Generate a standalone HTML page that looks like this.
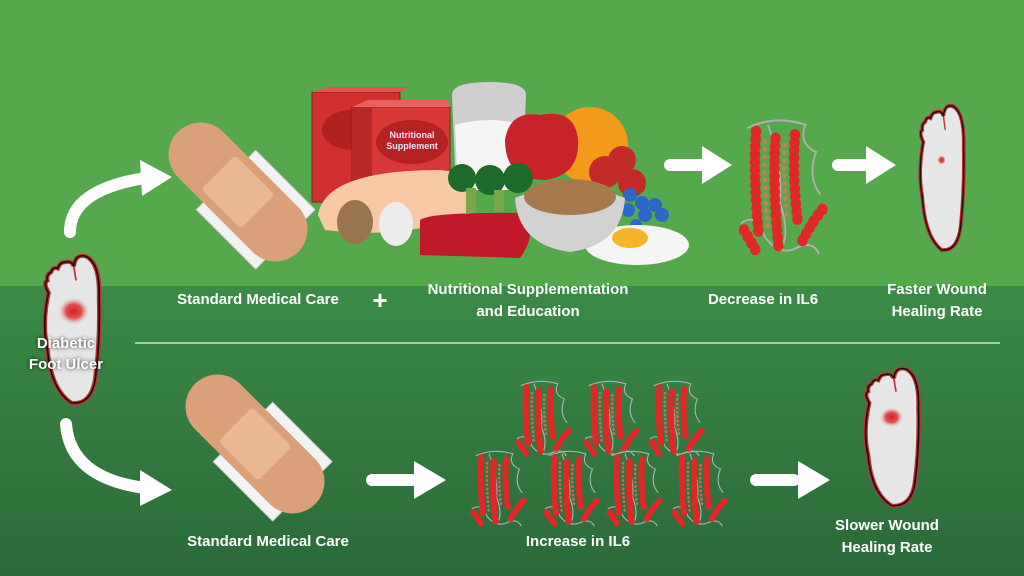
<!DOCTYPE html>
<html><head><style>
html,body{margin:0;padding:0;width:1024px;height:576px;overflow:hidden}
text{font-family:"Liberation Sans",sans-serif;font-weight:bold;fill:#fff}
</style></head><body>
<svg width="1024" height="576" viewBox="0 0 1024 576" xmlns="http://www.w3.org/2000/svg">
<defs>
<linearGradient id="bg2" x1="0" y1="0" x2="0" y2="1"><stop offset="0" stop-color="#3b8b45"/><stop offset="1" stop-color="#2a6a39"/></linearGradient>
<radialGradient id="ulc"><stop offset="0" stop-color="#d62020"/><stop offset="0.5" stop-color="#e05050"/><stop offset="1" stop-color="#e0e0e0" stop-opacity="0"/></radialGradient>
<filter id="sh"><feGaussianBlur stdDeviation="2"/></filter>
<g id="prot">
<g stroke="#b0b0b0" stroke-width="1.2" fill="none">
<path d="M6 6 Q25 -2 45 4 Q40 15 52 20 Q46 35 55 45"/>
<path d="M2 62 Q12 55 18 70 Q28 82 40 76 Q50 72 54 80"/>
<path d="M20 4 Q30 30 28 50 Q34 65 30 75"/>
</g>
<g stroke="#e02828" stroke-width="7" stroke-linecap="round" stroke-dasharray="0 4.5" fill="none">
<path d="M12 8 Q10 35 14 70"/>
<path d="M25 12 Q23 40 27 76"/>
<path d="M38 10 Q36 35 40 62"/>
<path d="M43 72 Q50 60 58 52"/>
<path d="M4 66 Q8 72 12 78"/>
</g>
<g stroke="#f07070" stroke-width="3" stroke-linecap="round" stroke-dasharray="0 4.5" fill="none" opacity="0.7">
<path d="M18 14 Q17 40 20 66"/><path d="M31 16 Q30 38 33 60"/>
</g>
</g>
<g id="foot">
<path d="M10 40 Q4 70 9 95 Q12 135 30 148 Q48 150 51 122 Q55 85 54 45 Q55 10 42 4 Q33 2 32 14 Q30 8 24 10 Q20 10 18 16 Q14 14 12 20 Q8 22 9 28 Q5 30 10 40Z" fill="#e6e6e6" stroke="#c03030" stroke-width="4"/>
<path d="M10 40 Q4 70 9 95 Q12 135 30 148 Q48 150 51 122 Q55 85 54 45 Q55 10 42 4 Q33 2 32 14 Q30 8 24 10 Q20 10 18 16 Q14 14 12 20 Q8 22 9 28 Q5 30 10 40Z" fill="none" stroke="#111" stroke-width="1.5"/>
<path d="M32 14 Q33 22 34 28" stroke="#c03030" stroke-width="1.5" fill="none"/>
</g>
<g id="band">
<rect x="-42" y="-42" width="84" height="84" fill="#f2f2f2" stroke="#ccc" transform="rotate(45) translate(25,0)"/>
<rect x="-85" y="-32" width="170" height="64" rx="32" fill="#d9a079" transform="rotate(45)"/>
<rect x="-28" y="-24" width="56" height="48" rx="4" fill="#e8b894" transform="rotate(45)"/>
</g>
</defs>
<rect width="1024" height="286" fill="#55a84b"/>
<rect y="286" width="1024" height="290" fill="url(#bg2)"/>
<line x1="135" y1="343" x2="1000" y2="343" stroke="#e8f0e8" stroke-width="1.2"/>

<path d="M70 232 Q70 190 145 178" stroke="#fff" stroke-width="12" fill="none" stroke-linecap="round"/>
<polygon points="140,160 172,177 142,196" fill="#fff"/>
<path d="M66 424 Q70 478 145 488" stroke="#fff" stroke-width="12" fill="none" stroke-linecap="round"/>
<polygon points="140,470 172,490 140,506" fill="#fff"/>
<g fill="#fff">
<rect x="664" y="159" width="45" height="12" rx="6"/><polygon points="702,146 732,165 702,184"/>
<rect x="832" y="159" width="42" height="12" rx="6"/><polygon points="866,146 896,165 866,184"/>
<rect x="366" y="474" width="52" height="12" rx="6"/><polygon points="414,461 446,480 414,499"/>
<rect x="750" y="474" width="50" height="12" rx="6"/><polygon points="798,461 830,480 798,499"/>
</g>

<g transform="translate(238,192)"><use href="#band"/></g>
<g transform="translate(255,444)"><use href="#band"/></g>

<g transform="translate(37,252) scale(1.15,1.02)"><use href="#foot"/><circle cx="32" cy="58" r="14" fill="url(#ulc)"/></g>
<g transform="translate(914,102) scale(0.92,1.0)"><use href="#foot"/><circle cx="30" cy="58" r="5" fill="url(#ulc)"/></g>
<g transform="translate(858,365) scale(1.12,0.95)"><use href="#foot"/><circle cx="30" cy="55" r="11" fill="url(#ulc)"/></g>

<g>
<rect x="312" y="92" width="88" height="110" fill="#d03030" stroke="#8a1a1a"/>
<polygon points="312,92 330,87 410,87 400,92" fill="#e05555"/>
<ellipse cx="352" cy="130" rx="30" ry="20" fill="#b02020"/>
<rect x="352" y="107" width="98" height="110" fill="#d83838" stroke="#8a1a1a"/>
<polygon points="352,107 368,100 448,100 450,107" fill="#e86060"/>
<rect x="352" y="107" width="20" height="110" fill="#b82828"/>
<ellipse cx="412" cy="142" rx="36" ry="22" fill="#b52222"/>
<text x="412" y="138" font-size="9" text-anchor="middle" style="fill:#e8e8ff">Nutritional</text>
<text x="412" y="149" font-size="9" text-anchor="middle" style="fill:#e8e8ff">Supplement</text>
<path d="M452 95 Q452 82 490 82 Q526 82 526 95 L522 190 L456 190Z" fill="#cfcfcf"/>
<path d="M455 125 Q490 115 523 125 L520 190 L458 190Z" fill="#f5f5f5"/>
<path d="M318 215 Q325 170 440 170 Q490 175 470 215 Q400 240 325 230Z" fill="#f6c9a4"/>
<ellipse cx="355" cy="222" rx="18" ry="22" fill="#9a7450"/>
<ellipse cx="396" cy="224" rx="17" ry="22" fill="#ececec"/>
<circle cx="590" cy="145" r="38" fill="#f39a1a"/>
<path d="M505 140 Q510 110 540 115 Q575 108 578 140 Q580 175 545 180 Q505 180 505 140Z" fill="#c8222a"/>
<g fill="#c42a2a"><circle cx="622" cy="160" r="14"/><circle cx="605" cy="172" r="16"/><circle cx="632" cy="183" r="14"/></g>
<g fill="#2d67c8"><circle cx="630" cy="195" r="7"/><circle cx="642" cy="203" r="7"/><circle cx="655" cy="205" r="7"/><circle cx="628" cy="210" r="7"/><circle cx="645" cy="215" r="7"/><circle cx="662" cy="215" r="7"/><circle cx="636" cy="225" r="6"/></g>
<g fill="#1d6a2a"><circle cx="462" cy="178" r="14"/><circle cx="490" cy="180" r="15"/><circle cx="518" cy="178" r="15"/></g>
<rect x="466" y="188" width="10" height="25" fill="#7aa64a"/><rect x="494" y="190" width="10" height="22" fill="#7aa64a"/>
<path d="M420 220 Q430 212 520 213 Q540 230 520 258 L420 255Z" fill="#c01a2a"/>
<ellipse cx="637" cy="245" rx="52" ry="20" fill="#f5f5f5"/>
<ellipse cx="630" cy="238" rx="18" ry="10" fill="#f5b52a"/>
<path d="M515 198 Q568 176 625 198 Q622 245 570 252 Q518 245 515 198Z" fill="#d2d2d2"/>
<ellipse cx="570" cy="197" rx="46" ry="18" fill="#a77a4e"/>
</g>

<g transform="translate(738,118) scale(1.5,1.7)"><use href="#prot"/></g>
<g transform="translate(515,380) scale(0.95,0.95)"><use href="#prot"/></g>
<g transform="translate(583,380) scale(0.95,0.95)"><use href="#prot"/></g>
<g transform="translate(648,380) scale(0.95,0.95)"><use href="#prot"/></g>
<g transform="translate(470,450) scale(0.95,0.95)"><use href="#prot"/></g>
<g transform="translate(543,450) scale(0.95,0.95)"><use href="#prot"/></g>
<g transform="translate(606,450) scale(0.95,0.95)"><use href="#prot"/></g>
<g transform="translate(671,450) scale(0.95,0.95)"><use href="#prot"/></g>

<g font-size="15">
<text x="258" y="304" text-anchor="middle">Standard Medical Care</text>
<text x="380" y="309" text-anchor="middle" font-size="26">+</text>
<text x="528" y="294" text-anchor="middle">Nutritional Supplementation</text>
<text x="528" y="316" text-anchor="middle">and Education</text>
<text x="763" y="304" text-anchor="middle">Decrease in IL6</text>
<text x="937" y="294" text-anchor="middle">Faster Wound</text>
<text x="937" y="316" text-anchor="middle">Healing Rate</text>
<g filter="url(#sh)" opacity="0.8"><text x="66" y="348" text-anchor="middle" style="fill:#000">Diabetic</text><text x="66" y="369" text-anchor="middle" style="fill:#000">Foot Ulcer</text></g>
<text x="66" y="348" text-anchor="middle">Diabetic</text>
<text x="66" y="369" text-anchor="middle">Foot Ulcer</text>
<text x="268" y="546" text-anchor="middle">Standard Medical Care</text>
<text x="578" y="546" text-anchor="middle">Increase in IL6</text>
<text x="887" y="530" text-anchor="middle">Slower Wound</text>
<text x="887" y="552" text-anchor="middle">Healing Rate</text>
</g>
</svg>
</body></html>
